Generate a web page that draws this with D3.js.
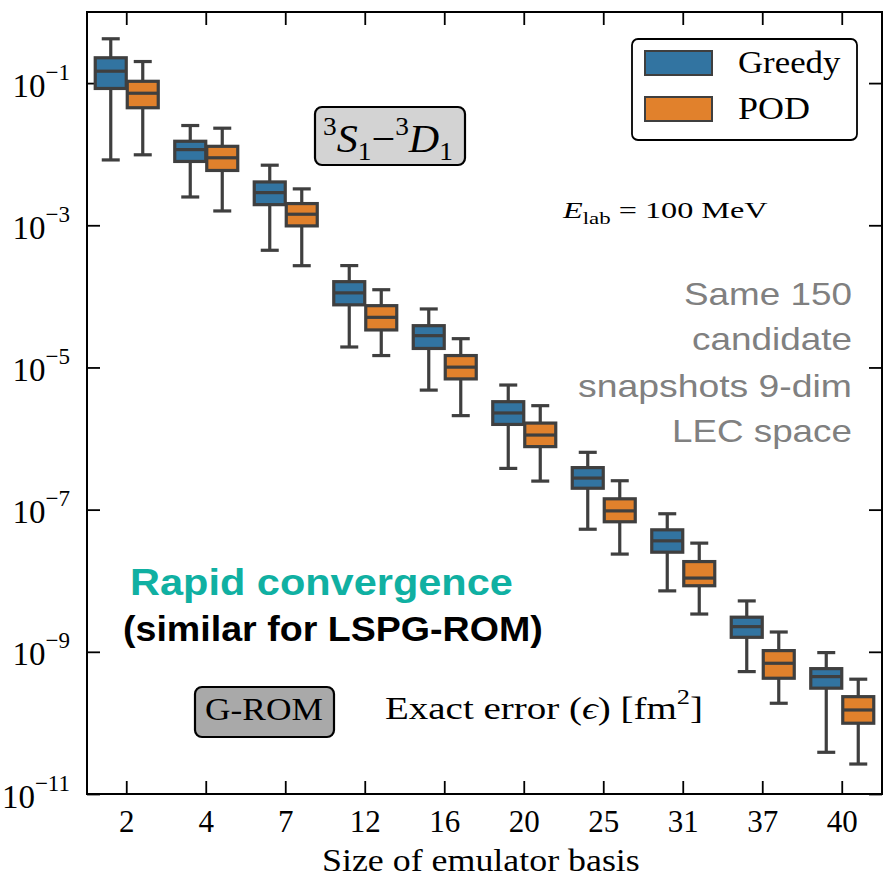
<!DOCTYPE html>
<html>
<head>
<meta charset="utf-8">
<script src="https://cdn.jsdelivr.net/npm/d3@7"></script>
<style>
  html, body { margin: 0; padding: 0; background: #ffffff; }
  svg { display: block; }
</style>
</head>
<body>
<svg id="chart" width="884" height="877"></svg>
<script>
// ---------------- DATA ----------------
const categories = ["2", "4", "7", "12", "16", "20", "25", "31", "37", "40"];
const seriesNames = ["Greedy", "POD"];
const seriesColors = ["#3274a1", "#e1812c"];

// Greedy: whisker low, Q1, median, Q3, whisker high
const greedyWhiskerLow  = [8.3e-3, 2.5e-3, 4.45e-4, 1.94e-5, 4.8e-6, 3.8e-7, 5.3e-8, 7.2e-9, 5.27e-10, 3.86e-11];
const greedyQ1          = [8.4e-2, 7.9e-3, 1.95e-3, 7.6e-5, 1.85e-5, 1.58e-6, 2.0e-7, 2.52e-8, 1.6e-9, 3.08e-10];
const greedyMedian      = [1.47e-1, 1.16e-2, 2.88e-3, 1.12e-4, 2.8e-5, 2.29e-6, 2.78e-7, 3.64e-8, 2.26e-9, 4.48e-10];
const greedyQ3          = [2.27e-1, 1.52e-2, 4.07e-3, 1.61e-4, 3.87e-5, 3.3e-6, 3.9e-7, 5.2e-8, 3.07e-9, 5.8e-10];
const greedyWhiskerHigh = [4.2e-1, 2.53e-2, 7.0e-3, 2.71e-4, 6.65e-5, 5.66e-6, 6.4e-7, 8.75e-8, 5.2e-9, 9.75e-10];

// POD: whisker low, Q1, median, Q3, whisker high
const podWhiskerLow  = [9.8e-3, 1.59e-3, 2.7e-4, 1.47e-5, 2.1e-6, 2.52e-7, 2.37e-8, 3.4e-9, 1.89e-10, 2.64e-11];
const podQ1          = [4.5e-2, 5.9e-3, 9.8e-4, 3.37e-5, 6.9e-6, 7.7e-7, 6.75e-8, 8.5e-9, 4.25e-10, 9.9e-11];
const podMedian      = [7.2e-2, 8.9e-3, 1.43e-3, 5.07e-5, 1.01e-5, 1.12e-6, 9.6e-8, 1.09e-8, 6.9e-10, 1.52e-10];
const podQ3          = [1.06e-1, 1.29e-2, 2.02e-3, 7.4e-5, 1.47e-5, 1.65e-6, 1.42e-7, 1.86e-8, 1.04e-9, 2.34e-10];
const podWhiskerHigh = [2.01e-1, 2.32e-2, 3.25e-3, 1.24e-4, 2.54e-5, 2.9e-6, 2.55e-7, 3.38e-8, 1.9e-9, 4.12e-10];

const yTickValues = [1e-1, 1e-3, 1e-5, 1e-7, 1e-9, 1e-11];
const yTickExponents = ["−1", "−3", "−5", "−7", "−9", "−11"];

const xAxisTitle = "Size of emulator basis";
const infoLines = ["Same 150", "candidate", "snapshots 9-dim", "LEC space"];

// ---------------- LAYOUT ----------------
const svg = d3.select("#chart");
const L = 87, R = 882, T = 12, B = 794;
const SERIF = "'Liberation Serif', 'DejaVu Serif', serif";
const SANS = "'Liberation Sans', Arial, sans-serif";
const LINE = "#3f3f3f";

const x = d3.scaleBand().domain(categories).range([L, R]).padding(0);
const xSub = d3.scaleBand().domain(seriesNames).range([0, x.bandwidth()])
  .paddingInner(0).paddingOuter(0.242);
const y = d3.scaleLog().domain([1e-11, 1]).range([B, T]);

// build records
const seriesData = [
  { name: "Greedy", lo: greedyWhiskerLow, q1: greedyQ1, med: greedyMedian, q3: greedyQ3, hi: greedyWhiskerHigh },
  { name: "POD", lo: podWhiskerLow, q1: podQ1, med: podMedian, q3: podQ3, hi: podWhiskerHigh }
];
const boxes = [];
seriesData.forEach((s, si) => {
  categories.forEach((c, ci) => {
    boxes.push({ cat: c, series: s.name, color: seriesColors[si],
      lo: s.lo[ci], q1: s.q1[ci], med: s.med[ci], q3: s.q3[ci], hi: s.hi[ci] });
  });
});

// ---------------- AXES (ticks inward) ----------------
const tickLen = 13;
const axB = svg.append("g").attr("transform", `translate(0,${B})`)
  .call(d3.axisBottom(x).tickSizeInner(-tickLen).tickSizeOuter(0).tickPadding(16));
axB.selectAll("text").attr("font-family", SERIF).attr("font-size", 31).attr("fill", "#000");
const axT = svg.append("g").attr("transform", `translate(0,${T})`)
  .call(d3.axisTop(x).tickSizeInner(-tickLen).tickSizeOuter(0).tickFormat(""));
const axLft = svg.append("g").attr("transform", `translate(${L},0)`)
  .call(d3.axisLeft(y).tickValues(yTickValues).tickSizeInner(-tickLen).tickSizeOuter(0).tickFormat(""));
const axRgt = svg.append("g").attr("transform", `translate(${R},0)`)
  .call(d3.axisRight(y).tickValues(yTickValues).tickSizeInner(-tickLen).tickSizeOuter(0).tickFormat(""));
[axB, axT, axLft, axRgt].forEach(a => {
  a.select(".domain").remove();
  a.selectAll(".tick line").attr("stroke", "#000").attr("stroke-width", 1.8);
});

// y tick labels with superscripts
yTickValues.forEach((v, i) => {
  const t = svg.append("text")
    .attr("x", 70).attr("y", y(v) + 13.5)
    .attr("text-anchor", "end")
    .attr("font-family", SERIF).attr("font-size", 33).attr("fill", "#000");
  t.append("tspan").text("10");
  t.append("tspan").attr("font-size", 23).attr("dy", -17).text(yTickExponents[i]);
});

// ---------------- BOXES ----------------
const boxW = 31;
const capHalf = 9;
const SW = 3.2;
const gBox = svg.append("g");
const bg = gBox.selectAll("g.box").data(boxes).join("g").attr("class", "box")
  .attr("transform", d => `translate(${x(d.cat) + xSub(d.series) + xSub.bandwidth() / 2},0)`);
// whiskers
bg.append("line").attr("x1", 0).attr("x2", 0)
  .attr("y1", d => y(d.hi)).attr("y2", d => y(d.q3))
  .attr("stroke", LINE).attr("stroke-width", SW);
bg.append("line").attr("x1", 0).attr("x2", 0)
  .attr("y1", d => y(d.q1)).attr("y2", d => y(d.lo))
  .attr("stroke", LINE).attr("stroke-width", SW);
// caps
bg.append("line").attr("x1", -capHalf).attr("x2", capHalf)
  .attr("y1", d => y(d.hi)).attr("y2", d => y(d.hi))
  .attr("stroke", LINE).attr("stroke-width", SW);
bg.append("line").attr("x1", -capHalf).attr("x2", capHalf)
  .attr("y1", d => y(d.lo)).attr("y2", d => y(d.lo))
  .attr("stroke", LINE).attr("stroke-width", SW);
// box
bg.append("rect").attr("x", -boxW / 2).attr("width", boxW)
  .attr("y", d => y(d.q3)).attr("height", d => y(d.q1) - y(d.q3))
  .attr("fill", d => d.color).attr("stroke", LINE).attr("stroke-width", SW);
// median
bg.append("line").attr("x1", -boxW / 2).attr("x2", boxW / 2)
  .attr("y1", d => y(d.med)).attr("y2", d => y(d.med))
  .attr("stroke", LINE).attr("stroke-width", SW);

// ---------------- FRAME ----------------
svg.append("rect").attr("x", L).attr("y", T).attr("width", R - L).attr("height", B - T)
  .attr("fill", "none").attr("stroke", "#000").attr("stroke-width", 2);

// ---------------- TEXT HELPER ----------------
function placeText(opts) {
  const g = svg.append("g");
  const t = g.append("text").attr("x", 0).attr("y", 0)
    .attr("font-family", opts.family || SERIF)
    .attr("font-size", opts.size)
    .attr("font-weight", opts.weight || "normal")
    .attr("fill", opts.fill || "#000");
  opts.build(t);
  const w = t.node().getBBox().width;
  const sx = opts.width ? opts.width / w : 1;
  const W = opts.width || w;
  let x0 = opts.x;
  if (opts.anchor === "end") x0 = opts.x - W;
  if (opts.anchor === "middle") x0 = opts.x - W / 2;
  g.attr("transform", `translate(${x0},${opts.y}) scale(${sx},1)`);
  return g;
}

// x-axis title
placeText({ x: 322, y: 871, width: 318, size: 31,
  build: t => t.text(xAxisTitle) });

// ---------------- LEGEND ----------------
svg.append("rect").attr("x", 632).attr("y", 39).attr("width", 225).attr("height", 101)
  .attr("rx", 6).attr("fill", "#fff").attr("stroke", "#000").attr("stroke-width", 1.8);
const legY = [51, 97];
seriesNames.forEach((n, i) => {
  svg.append("rect").attr("x", 645).attr("y", legY[i]).attr("width", 67).attr("height", 24)
    .attr("fill", seriesColors[i]).attr("stroke", LINE).attr("stroke-width", 2);
});
placeText({ x: 738, y: 73, width: 103, size: 31, build: t => t.text(seriesNames[0]) });
placeText({ x: 738, y: 119, width: 72, size: 31, build: t => t.text(seriesNames[1]) });

// ---------------- ANNOTATIONS ----------------
// 3S1-3D1 box
svg.append("rect").attr("x", 315).attr("y", 107).attr("width", 150).attr("height", 58)
  .attr("rx", 7).attr("fill", "#d3d3d3").attr("stroke", "#000").attr("stroke-width", 2.2);
placeText({ x: 323, y: 152, width: 130, size: 40, build: t => {
  t.append("tspan").attr("font-size", 26).attr("dy", -17).text("3");
  t.append("tspan").attr("font-style", "italic").attr("dy", 17).text("S");
  t.append("tspan").attr("font-size", 26).attr("dy", 8).text("1");
  t.append("tspan").attr("dy", -8).text("−");
  t.append("tspan").attr("font-size", 26).attr("dy", -17).text("3");
  t.append("tspan").attr("font-style", "italic").attr("dy", 17).text("D");
  t.append("tspan").attr("font-size", 26).attr("dy", 8).text("1");
}});

// E_lab
placeText({ x: 563, y: 218, width: 207, size: 24, build: t => {
  t.append("tspan").attr("font-style", "italic").text("E");
  t.append("tspan").attr("font-size", 17).attr("dy", 6).text("lab");
  t.append("tspan").attr("dy", -6).text(" = 100 MeV");
}});

// Info lines (gray, right aligned)
const infoBase = [305, 350, 397, 442];
const infoWidth = [168, 160, 274, 180];
infoLines.forEach((s, i) => {
  placeText({ x: 852, y: infoBase[i], width: infoWidth[i], anchor: "end", size: 32,
    family: SANS, fill: "#808080", build: t => t.text(s) });
});

// Rapid convergence
placeText({ x: 130, y: 595, width: 383, size: 37, family: SANS, weight: "bold",
  fill: "#10b0a2", build: t => t.text("Rapid convergence") });
placeText({ x: 123, y: 641, width: 420, size: 36, family: SANS, weight: "bold",
  fill: "#000", build: t => t.text("(similar for LSPG-ROM)") });

// G-ROM box
svg.append("rect").attr("x", 195).attr("y", 687).attr("width", 139).attr("height", 50)
  .attr("rx", 7).attr("fill", "#a9a9a9").attr("stroke", "#000").attr("stroke-width", 2.2);
placeText({ x: 205, y: 720, width: 118, size: 31, build: t => t.text("G-ROM") });

// Exact error
placeText({ x: 385, y: 719, width: 318, size: 31, build: t => {
  t.append("tspan").text("Exact error (");
  t.append("tspan").attr("font-style", "italic").text("ϵ");
  t.append("tspan").text(") [fm");
  t.append("tspan").attr("font-size", 21).attr("dy", -15).text("2");
  t.append("tspan").attr("dy", 15).text("]");
}});
</script>
</body>
</html>
